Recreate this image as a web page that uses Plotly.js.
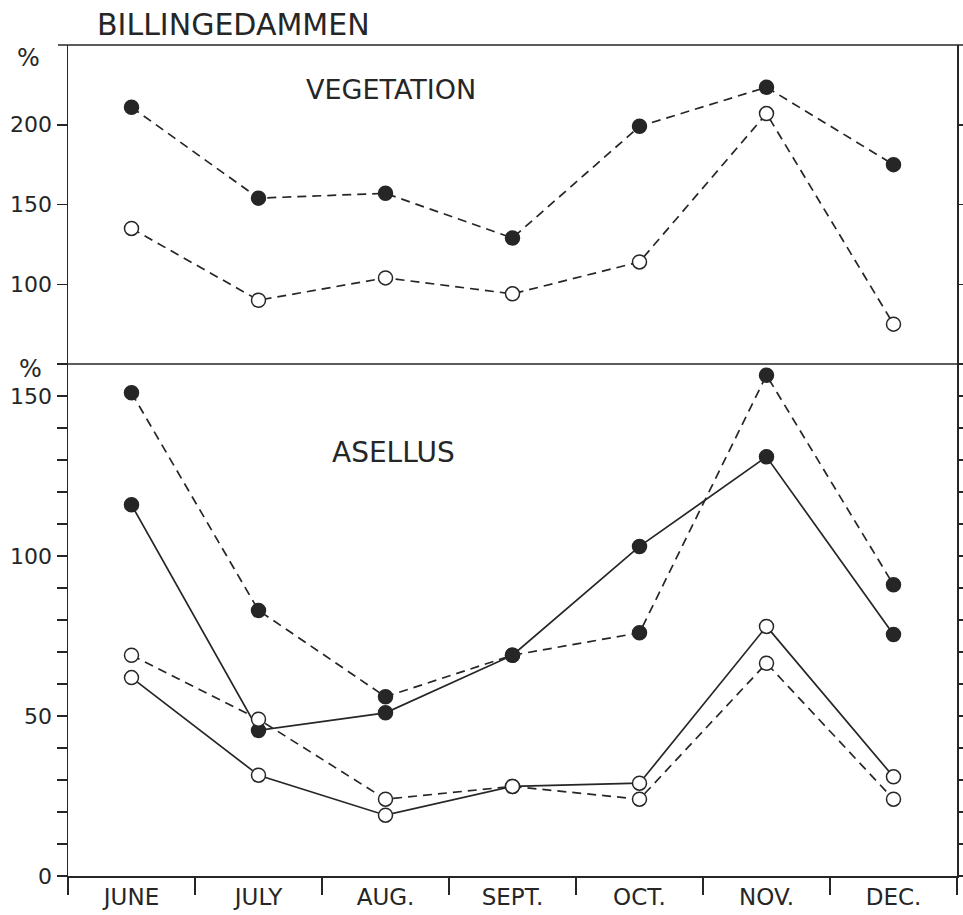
<!DOCTYPE html>
<html>
<head>
<meta charset="utf-8">
<script src="https://cdn.plot.ly/plotly-3.0.1.min.js"></script>
<style>
  html, body { margin: 0; padding: 0; background: #ffffff; }
  #chart { width: 963px; height: 915px; }
</style>
</head>
<body>
<div id="chart"></div>
<script>
// Months sampled
const months = ["JUNE", "JULY", "AUG.", "SEPT.", "OCT.", "NOV.", "DEC."];

// Vegetation panel (%)
const vegFilled = [211, 154, 157, 129, 199, 223.5, 175];
const vegOpen   = [135, 90, 104, 94, 114, 207, 75];

// Asellus panel (%)
const aseFilledDash  = [151, 83, 56, 69, 76, 156.5, 91];
const aseFilledSolid = [116, 45.5, 51, 69, 103, 131, 75.5];
const aseOpenDash    = [69, 49, 24, 28, 24, 66.5, 24];
const aseOpenSolid   = [62, 31.5, 19, 28, 29, 78, 31];

const ink = "#262626";
const font = "DejaVu Sans, Liberation Sans, sans-serif";

function series(y, filled, dashed, xa, ya) {
  return {
    x: months, y: y, xaxis: xa, yaxis: ya,
    type: "scatter", mode: "lines+markers",
    line: { color: ink, width: 1.7, dash: dashed ? "9px,6px" : "solid" },
    marker: {
      size: 14, color: filled ? ink : "#ffffff",
      line: { color: ink, width: 1.5 }
    },
    cliponaxis: false, showlegend: false, hoverinfo: "skip"
  };
}

const traces = [
  series(vegFilled, true, true, "x2", "y2"),
  series(vegOpen, false, true, "x2", "y2"),
  series(aseFilledDash, true, true, "x", "y"),
  series(aseFilledSolid, true, false, "x", "y"),
  series(aseOpenDash, false, true, "x", "y"),
  series(aseOpenSolid, false, false, "x", "y")
];

const split = 0.6161;
const tickFont = { family: font, size: 22, color: ink };

const layout = {
  width: 963, height: 915,
  margin: { l: 68, r: 6, t: 45, b: 39 },
  paper_bgcolor: "#ffffff", plot_bgcolor: "#ffffff",
  font: { family: font, color: ink },
  title: {
    text: "BILLINGEDAMMEN",
    font: { family: font, size: 30, color: ink },
    xref: "container", yref: "container",
    x: 97 / 963, xanchor: "left",
    y: 1 - 24 / 915, yanchor: "middle"
  },
  xaxis: {
    type: "category", range: [-0.5, 6.5], anchor: "y",
    tickson: "boundaries", ticks: "outside", ticklen: 17, tickwidth: 1.5,
    tickcolor: ink, showline: true, linecolor: ink, linewidth: 1.5,
    mirror: false, showgrid: false, zeroline: false,
    tickfont: { family: font, size: 23, color: ink }, ticklabelstandoff: 0
  },
  xaxis2: {
    type: "category", range: [-0.5, 6.5], anchor: "y2", matches: "x",
    showticklabels: false, ticks: "", showline: false, showgrid: false, zeroline: false
  },
  yaxis: {
    domain: [0, split], range: [0, 160], anchor: "x",
    tickmode: "array", tickvals: [0, 50, 100, 150],
    ticks: "outside", ticklen: 10, tickwidth: 1.5, tickcolor: ink,
    minor: { tickmode: "array", tickvals: [10, 20, 30, 40, 60, 70, 80, 90, 110, 120, 130, 140, 160], ticks: "outside", ticklen: 10, tickwidth: 1.5, tickcolor: ink, showgrid: false },
    showline: true, linecolor: ink, linewidth: 1.5, mirror: "ticks",
    showgrid: false, zeroline: false, tickfont: tickFont
  },
  yaxis2: {
    domain: [split, 1], range: [50, 250], anchor: "x2",
    tickmode: "array", tickvals: [100, 150, 200],
    ticks: "outside", ticklen: 10, tickwidth: 1.5, tickcolor: ink,
    showline: true, linecolor: ink, linewidth: 1.5, mirror: "ticks",
    showgrid: false, zeroline: false, tickfont: tickFont
  },
  shapes: [
    { type: "line", xref: "paper", yref: "paper", x0: -10 / 889, x1: 1.007, y0: 1, y1: 1,
      line: { color: ink, width: 1.5 } },
    { type: "line", xref: "paper", yref: "paper", x0: -10 / 889, x1: 1.007, y0: split, y1: split,
      line: { color: ink, width: 1.5 } }
  ],
  annotations: [
    { text: "VEGETATION", xref: "paper", yref: "paper", x: (391 - 68) / 889, y: (876 - 89) / 831,
      xanchor: "center", yanchor: "middle", showarrow: false,
      font: { family: font, size: 27, color: ink } },
    { text: "ASELLUS", xref: "paper", yref: "paper", x: (393 - 68) / 889, y: (876 - 452) / 831,
      xanchor: "center", yanchor: "middle", showarrow: false,
      font: { family: font, size: 28, color: ink } },
    { text: "%", xref: "paper", yref: "paper", x: (28 - 68) / 889, y: (876 - 58) / 831,
      xanchor: "center", yanchor: "middle", showarrow: false,
      font: { family: font, size: 24, color: ink } },
    { text: "%", xref: "paper", yref: "paper", x: (30 - 68) / 889, y: (876 - 369) / 831,
      xanchor: "center", yanchor: "middle", showarrow: false,
      font: { family: font, size: 24, color: ink } }
  ]
};

Plotly.newPlot("chart", traces, layout, { staticPlot: true, displayModeBar: false });
</script>
</body>
</html>
